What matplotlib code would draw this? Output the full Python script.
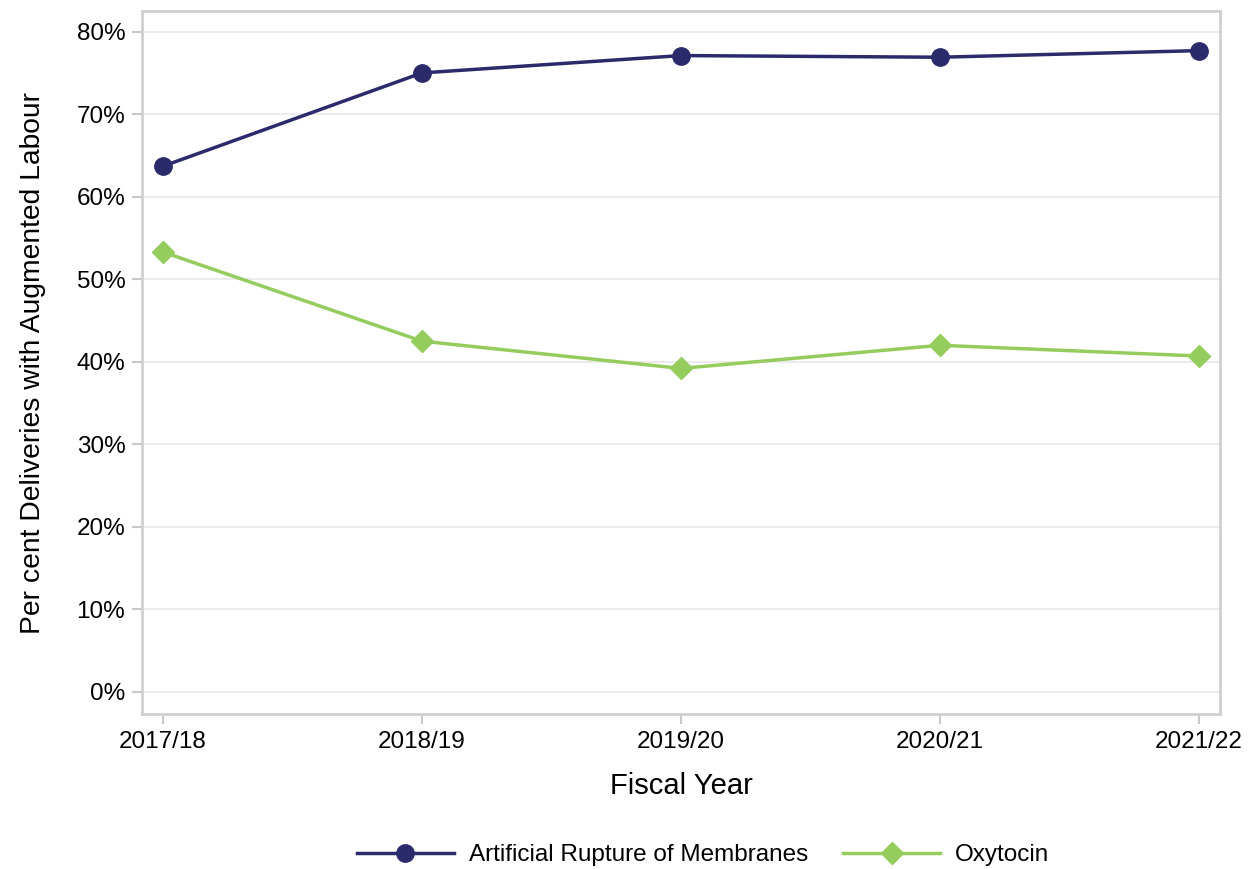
import matplotlib
matplotlib.use("Agg")
import matplotlib.pyplot as plt
from matplotlib.ticker import PercentFormatter

years = ["2017/18", "2018/19", "2019/20", "2020/21", "2021/22"]
arm = [63.7, 75.0, 77.1, 76.9, 77.7]
oxytocin = [53.3, 42.5, 39.2, 42.0, 40.7]

plt.rcParams['font.family'] = ['Liberation Sans', 'DejaVu Sans']

fig = plt.figure(figsize=(12.51, 8.69), dpi=100)
ax = fig.add_axes([142/1251, 1 - 714/869, (1220-142)/1251, (714-11)/869])

x = range(len(years))
ax.plot(x, arm, color='#2b2a6b', lw=2.5, marker='o', ms=12.5, label='Artificial Rupture of Membranes')
ax.plot(x, oxytocin, color='#95cc5e', lw=2.5, marker='D', ms=11, label='Oxytocin')

ax.set_xlim(-0.081, 4.081)
ax.set_ylim(-2.67, 82.5)
ax.set_yticks(range(0, 81, 10))
ax.yaxis.set_major_formatter(PercentFormatter(decimals=0))
ax.set_xticks(list(x))
ax.set_xticklabels(years)
ax.grid(axis='y', color='#ebebeb', lw=1.5)
ax.set_axisbelow(True)
for s in ax.spines.values():
    s.set_color('#d0d0d0')
    s.set_linewidth(2)
ax.tick_params(colors='#c8c8c8', labelcolor='black', labelsize=17.5, length=7, width=1.5, pad=5)

ax.set_xlabel('Fiscal Year', fontsize=21, labelpad=14)
ax.set_ylabel('Per cent Deliveries with Augmented Labour', fontsize=20.3, labelpad=22)

fig.legend(loc='center', bbox_to_anchor=(703/1251, 1 - 855/869), ncol=2, frameon=False,
           fontsize=17.5, handlelength=4, handletextpad=0.6, columnspacing=1.45)

fig.savefig('out.png', dpi=100)
